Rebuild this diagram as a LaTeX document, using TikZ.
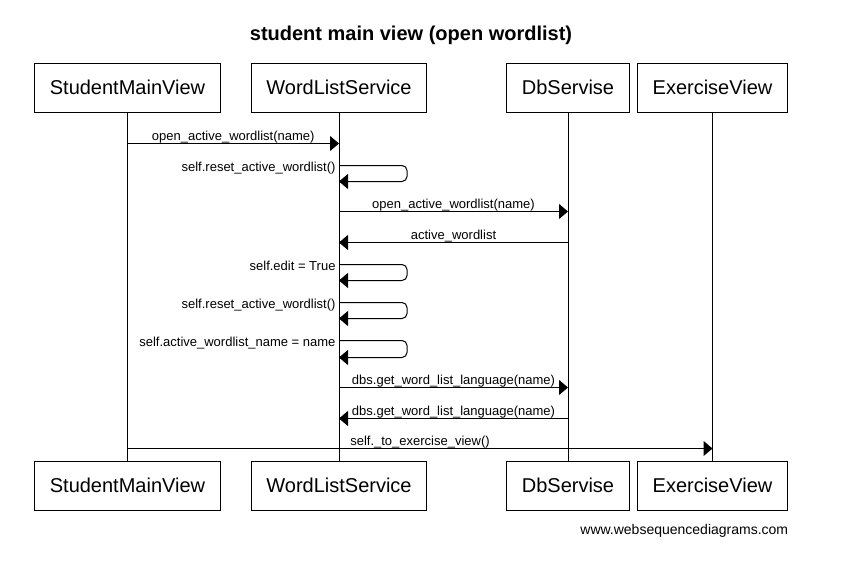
\documentclass[tikz,border=0pt]{standalone}
\usepackage{fontspec}
\setmainfont{Liberation Sans}
\usetikzlibrary{arrows.meta}

\begin{document}
\begin{tikzpicture}[x=1pt, y=-1pt, line width=1pt, >={Triangle[length=9pt,width=15pt]},
  actor/.style={draw, font=\fontsize{20}{24}\selectfont, minimum height=49pt, inner xsep=15pt},
  msg/.style={font=\fontsize{13}{15}\selectfont, anchor=base, yshift=3pt, inner sep=0pt},
  selfmsg/.style={font=\fontsize{13}{15}\selectfont, anchor=base east, inner sep=0pt, xshift=-3pt, yshift=-6pt},
  loopline/.style={draw, ->, rounded corners=5pt}]
\useasboundingbox (0,0) rectangle (857,568);
\draw (411,40) node[anchor=base, font=\bfseries\fontsize{20}{24}\selectfont] (title) {student main view (open wordlist)};
%% actors
\draw (127.5,87.5) node[actor] (smv) {StudentMainView};
\draw (smv) ++ (211.5,0) node[actor] (wls) {WordListService};
\draw (wls) ++ (229,0) node[actor] (db) {DbServise};
\draw (db) ++ (144.5,0) node[actor] (ev) {ExerciseView};
\draw (smv) ++ (0,398) node[actor] (smv') {StudentMainView};
\draw (wls) ++ (0,398) node[actor] (wls') {WordListService};
\draw (db) ++ (0,398) node[actor] (db') {DbServise};
\draw (ev) ++ (0,398) node[actor] (ev') {ExerciseView};
\path[draw] (smv) -- (smv');
\path[draw] (wls) -- (wls');
\path[draw] (db) -- (db');
\path[draw] (ev) -- (ev');
%% M1
\path (smv.south) ++ (0,31) coordinate (m1);
\path[draw, ->] (m1) -- node[msg] {open\_active\_wordlist(name)} (m1 -| wls);
%% L1
\path (wls.south) ++ (0,53) coordinate (l1);
\path[loopline] (l1) node[selfmsg] {self.reset\_active\_wordlist()}
  -- ++(68,0) -- ++(0,16) -- ++(-68,0);
%% M3
\path (wls.south) ++ (0,99) coordinate (m3);
\path[draw, ->] (m3) -- node[msg] {open\_active\_wordlist(name)} (m3 -| db);
%% M4
\path (db.south) ++ (0,130) coordinate (m4);
\path[draw, ->] (m4) -- node[msg] {active\_wordlist} (m4 -| wls);
%% L2
\path (wls.south) ++ (0,152) coordinate (l2);
\path[loopline] (l2) node[selfmsg] {self.edit = True}
  -- ++(68,0) -- ++(0,16) -- ++(-68,0);
%% L3
\path (wls.south) ++ (0,190) coordinate (l3);
\path[loopline] (l3) node[selfmsg] {self.reset\_active\_wordlist()}
  -- ++(68,0) -- ++(0,16) -- ++(-68,0);
%% L4
\path (wls.south) ++ (0,228) coordinate (l4);
\path[loopline] (l4) node[selfmsg] {self.active\_wordlist\_name = name}
  -- ++(68,0) -- ++(0,17) -- ++(-68,0);
%% M8
\path (wls.south) ++ (0,275) coordinate (m8);
\path[draw, ->] (m8) -- node[msg] {dbs.get\_word\_list\_language(name)} (m8 -| db);
%% M9
\path (db.south) ++ (0,306) coordinate (m9);
\path[draw, ->] (m9) -- node[msg] {dbs.get\_word\_list\_language(name)} (m9 -| wls);
%% M10
\path (smv.south) ++ (0,336) coordinate (m10);
\path[draw, ->] (m10) -- node[msg] {self.\_to\_exercise\_view()} (m10 -| ev);

\draw (792,534) node[anchor=base east, font=\fontsize{14}{16}\selectfont] (web) {www.websequencediagrams.com};
\end{tikzpicture}
\end{document}
